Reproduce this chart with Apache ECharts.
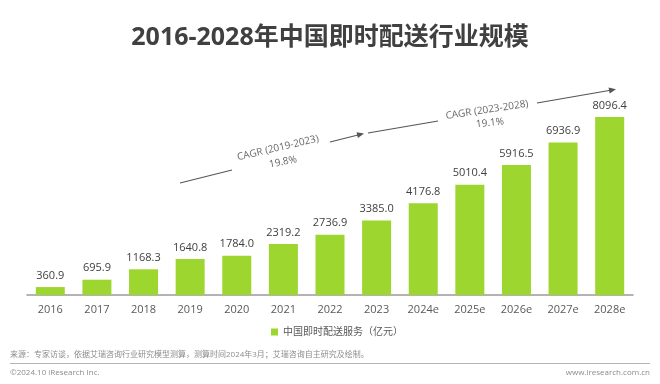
<!DOCTYPE html>
<html><head><meta charset="utf-8">
<script src="https://cdn.jsdelivr.net/npm/echarts@6/dist/echarts.min.js"></script>
<style>html,body{margin:0;padding:0;background:#fff}#c{width:660px;height:384px}</style>
</head><body><div id="c"></div>
<script>
const categories = ['2016','2017','2018','2019','2020','2021','2022','2023','2024e','2025e','2026e','2027e','2028e'];
const values = [360.9,695.9,1168.3,1640.8,1784.0,2319.2,2736.9,3385.0,4176.8,5010.4,5916.5,6936.9,8096.4];
const seriesName = '中国即时配送服务（亿元）';
const titleText = '2016-2028年中国即时配送行业规模';
const cagr1 = ['CAGR (2019-2023)', '19.8%'];
const cagr2 = ['CAGR (2023-2028)', '19.1%'];
const sourceText = '来源：专家访谈，依据艾瑞咨询行业研究模型测算，测算时间2024年3月；艾瑞咨询自主研究及绘制。';
const copyText = '©2024.10 iResearch Inc.';
const siteText = 'www.iresearch.com.cn';

const FONT = '"Open Sans","Noto Sans CJK SC",sans-serif';
const GREEN = '#9DD62E';
const chart = echarts.init(document.getElementById('c'));
const arrowLine = (x1,y1,x2,y2) => ({
  type:'line', shape:{x1,y1,x2,y2}, style:{stroke:'#555', lineWidth:1.2}
});
const arrowHead = (x,y,angle) => ({
  type:'polygon', x, y, rotation: angle,
  shape:{points:[[0,0],[-7,-3],[-7,3]]}, style:{fill:'#555'}
});
chart.setOption({
  animation:false,
  title:{text:titleText, left:'center', top:20,
    textStyle:{fontSize:25, fontWeight:'bold', color:'#404040', fontFamily:FONT}},
  legend:{data:[seriesName], left:266, top:322, itemWidth:7, itemHeight:7, icon:'rect',
    itemGap:4, textStyle:{fontSize:10, color:'#595959', fontFamily:FONT}},
  grid:{left:27, right:27, top:117, bottom:89, containLabel:false},
  xAxis:{type:'category', data:categories,
    axisLine:{lineStyle:{color:'#9a9a9a', width:1.5}}, axisTick:{show:false},
    axisLabel:{color:'#595959', fontSize:11, margin:9, fontFamily:FONT}},
  yAxis:{type:'value', min:0, max:8096.4, show:false, splitLine:{show:false}},
  series:[{name:seriesName, type:'bar', data:values, barWidth:29,
    itemStyle:{color:GREEN},
    label:{show:true, position:'top', distance:6, color:'#404040', fontSize:11, fontFamily:FONT,
      formatter:p => Number(p.value).toFixed(1)}}],
  graphic:[
    arrowLine(180,183,232,170), arrowLine(330,142,362,134), arrowHead(364,133.5,0.24),
    {type:'text', x:278, y:148, rotation:0.23, style:{text:cagr1[0], fontSize:10, fill:'#666', align:'center', verticalAlign:'middle', fontFamily:FONT}},
    {type:'text', x:283, y:162, rotation:0.2, style:{text:cagr1[1], fontSize:10, fill:'#666', align:'center', verticalAlign:'middle', fontFamily:FONT}},
    arrowLine(368,133,438,121), arrowLine(537,103,612,90), arrowHead(616,89.3,0.17),
    {type:'text', x:487, y:110, rotation:0.15, style:{text:cagr2[0], fontSize:10, fill:'#666', align:'center', verticalAlign:'middle', fontFamily:FONT}},
    {type:'text', x:490, y:123, rotation:0.1, style:{text:cagr2[1], fontSize:10, fill:'#666', align:'center', verticalAlign:'middle', fontFamily:FONT}},
    {type:'text', left:10, top:351, style:{text:sourceText, fontSize:8, fill:'#8c8c8c', fontFamily:FONT}},
    {type:'line', shape:{x1:10,y1:363.5,x2:650,y2:363.5}, style:{stroke:'#b5b5b5', lineWidth:1}},
    {type:'text', left:10, top:369, style:{text:copyText, fontSize:8, fill:'#8c8c8c', fontFamily:FONT}},
    {type:'text', right:10, top:369, style:{text:siteText, fontSize:8, fill:'#8c8c8c', fontFamily:FONT}}
  ]
});
</script></body></html>
